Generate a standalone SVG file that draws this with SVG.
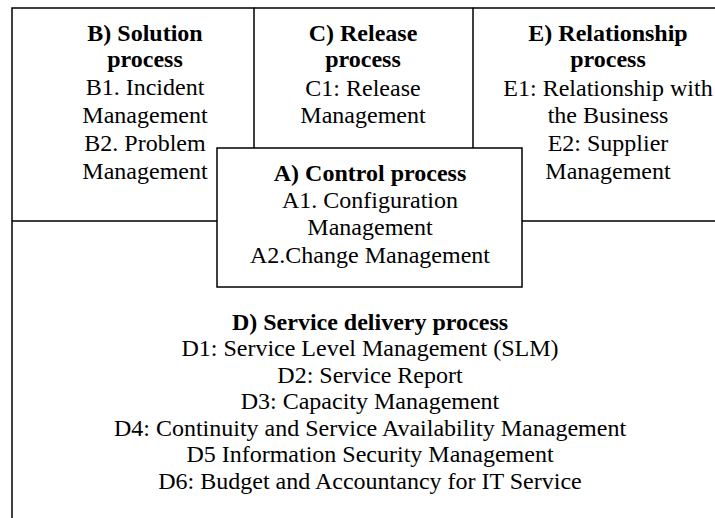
<svg xmlns="http://www.w3.org/2000/svg" width="715" height="518" viewBox="0 0 715 518">
<style>
.ln{fill:none;stroke:#000;stroke-width:1.5}
.box{fill:#fff;stroke:#000;stroke-width:1.5}
text{font-family:'Liberation Serif','Times New Roman',serif;font-size:24px;fill:#000;text-anchor:middle}
.t{font-weight:bold}
</style>
<rect x="0" y="0" width="715" height="518" fill="#fff"/>
<g id="connectors"></g>
<g id="B">
<path class="ln" d="M12,221 V8 H254 V148 M12,221 H217"/>
<text class="t" x="145" y="41">B) Solution</text>
<text class="t" x="145" y="67">process</text>
<text x="145" y="95">B1. Incident</text>
<text x="145" y="123">Management</text>
<text x="145" y="151">B2. Problem</text>
<text x="145" y="179">Management</text>
</g>
<g id="C">
<path class="ln" d="M254,8 H473 V148"/>
<text class="t" x="363" y="41">C) Release</text>
<text class="t" x="363" y="67">process</text>
<text x="363" y="96">C1: Release</text>
<text x="363" y="123">Management</text>
</g>
<g id="E">
<path class="ln" d="M473,8 H715 M522,221 H715"/>
<text class="t" x="608" y="41">E) Relationship</text>
<text class="t" x="608" y="67">process</text>
<text x="608" y="96">E1: Relationship with</text>
<text x="608" y="123">the Business</text>
<text x="608" y="151">E2: Supplier</text>
<text x="608" y="179">Management</text>
</g>
<g id="D">
<path class="ln" d="M12,221 V518"/>
<text class="t" x="370" y="330">D) Service delivery process</text>
<text x="370" y="356">D1: Service Level Management (SLM)</text>
<text x="370" y="383">D2: Service Report</text>
<text x="370" y="409">D3: Capacity Management</text>
<text x="370" y="436">D4: Continuity and Service Availability Management</text>
<text x="370" y="462">D5 Information Security Management</text>
<text x="370" y="489">D6: Budget and Accountancy for IT Service</text>
</g>
<g id="A">
<rect class="box" x="217" y="148" width="305" height="139"/>
<text class="t" x="370" y="181">A) Control process</text>
<text x="370" y="208">A1. Configuration</text>
<text x="370" y="235">Management</text>
<text x="370" y="263">A2.Change Management</text>
</g>
</svg>
